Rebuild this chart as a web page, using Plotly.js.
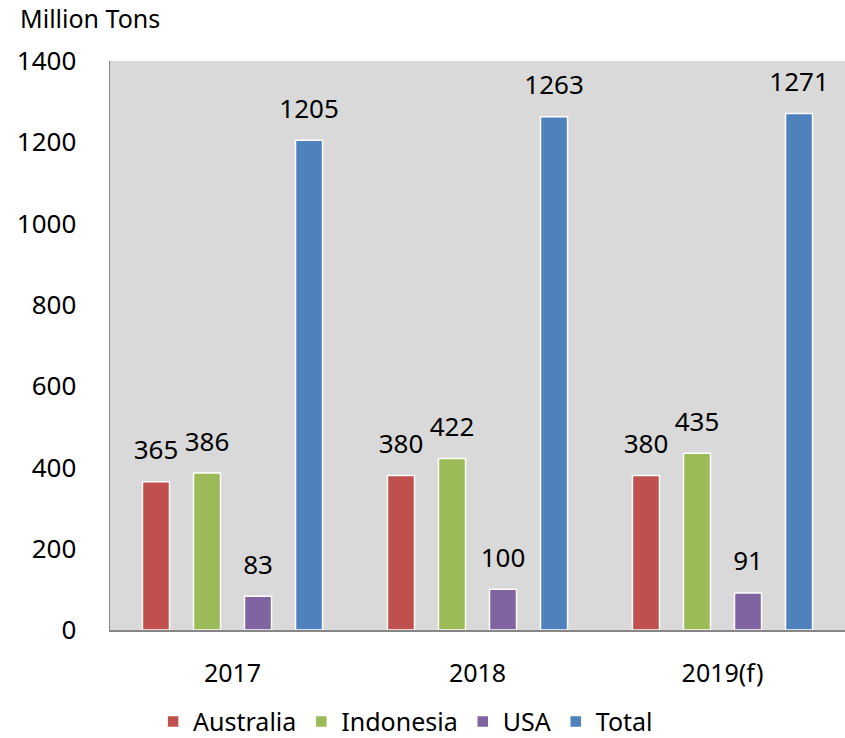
<!DOCTYPE html>
<html>
<head>
<meta charset="utf-8">
<script src="https://cdn.plot.ly/plotly-3.0.1.min.js"></script>
<style>html,body{margin:0;padding:0;background:#fff;}#chart{width:845px;height:738px;}</style>
</head>
<body>
<div id="chart"></div>
<script>
const categories = ["2017", "2018", "2019(f)"];
const australia = [365, 380, 380];
const indonesia = [386, 422, 435];
const usa = [83, 100, 91];
const total = [1205, 1263, 1271];
const seriesNames = ["Australia", "Indonesia", "USA", "Total"];
const seriesColors = ["#C0504D", "#9BBB59", "#8064A2", "#4F81BD"];
const seriesValues = [australia, indonesia, usa, total];

const FONT = "Noto Sans, Open Sans, sans-serif";
const traces = seriesValues.map((vals, i) => ({
  type: "bar",
  name: seriesNames[i],
  x: categories,
  y: vals,
  marker: {color: seriesColors[i], line: {color: "#ffffff", width: 1.5}},
  text: vals.map(String),
  texttemplate: "<span style='font-size:26px'>%{text}</span><br> ",
  textposition: "outside",
  constraintext: "none",
  cliponaxis: false,
  textfont: {family: FONT, size: 12, color: "#000"},
  hoverinfo: "skip"
}));

const layout = {
  width: 845, height: 738,
  margin: {l: 110, r: 0, t: 61, b: 108, autoexpand: false},
  paper_bgcolor: "#ffffff",
  plot_bgcolor: "#D9D9D9",
  barmode: "group",
  bargap: 0.167,
  bargroupgap: 0.47,
  showlegend: true,
  legend: {orientation: "h", x: 0.48, xref: "container", xanchor: "center", y: 0.022, yref: "container", yanchor: "middle",
           font: {family: FONT, size: 25, color: "#000"}, itemwidth: 30, traceorder: "normal"},
  font: {family: FONT, color: "#000"},
  xaxis: {type: "category", showgrid: false, showline: true, linecolor: "#868686", linewidth: 1.5,
          ticks: "outside", ticklen: 20, tickcolor: "rgba(0,0,0,0)",
          tickfont: {family: FONT, size: 25, color: "#000"}, zeroline: false},
  yaxis: {range: [0, 1400], dtick: 200, showgrid: false, showline: true, linecolor: "#868686", linewidth: 1.5,
          ticks: "outside", ticklen: 27, tickcolor: "rgba(0,0,0,0)",
          tickfont: {family: FONT, size: 26, color: "#000"}, zeroline: false},
  annotations: [{text: "Million Tons", xref: "paper", yref: "paper", x: -0.125, y: 1.075,
                 xanchor: "left", yanchor: "middle", showarrow: false,
                 font: {family: FONT, size: 25, color: "#000"}}]
};
Plotly.newPlot("chart", traces, layout, {displayModeBar: false, staticPlot: true});
</script>
</body>
</html>
